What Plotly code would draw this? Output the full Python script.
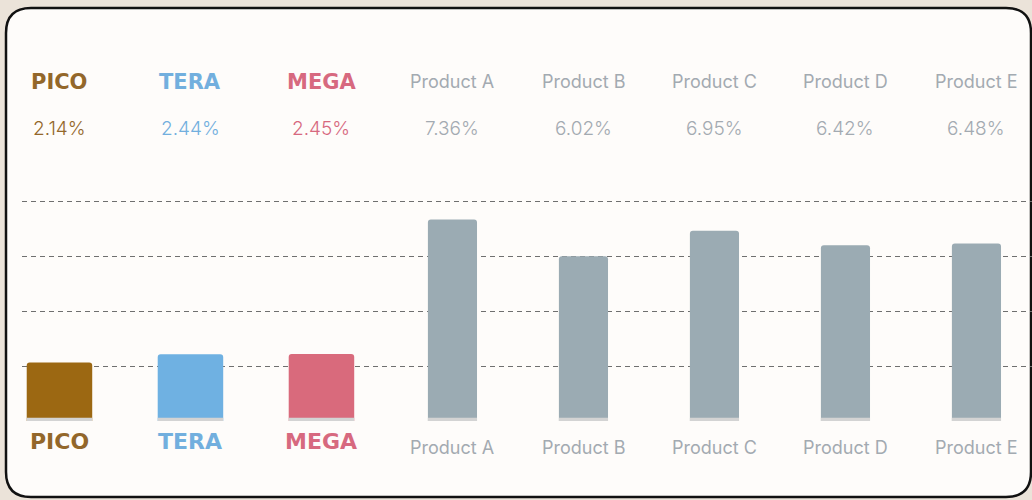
import plotly.graph_objects as go

# ---- data ----
categories = ["PICO", "TERA", "MEGA", "Product A", "Product B", "Product C", "Product D", "Product E"]
values = [2.14, 2.44, 2.45, 7.36, 6.02, 6.95, 6.42, 6.48]
y_ticks = [0, 2, 4, 6, 8]

# ---- styles ----
bar_colors = ["#9c6812", "#6fb1e2", "#d96a7c", "#9babb3", "#9babb3", "#9babb3", "#9babb3", "#9babb3"]
text_colors = ["#93672a", "#72afde", "#d7697f", "#a3aab1", "#a3aab1", "#a3aab1", "#a3aab1", "#a3aab1"]
highlight = [True, True, True, False, False, False, False, False]
bar_widths = [0.5 if h else 0.375 for h in highlight]

W, H = 1032, 500
ML, MR, MT, MB = 22, 0, 180, 79
PW, PH = W - ML - MR, H - MT - MB


def px(x):
    return (x - ML) / PW


def py(y):
    return (H - MB - y) / PH


fig = go.Figure()
fig.add_trace(go.Bar(
    x=list(range(len(categories))), y=values, width=bar_widths,
    marker=dict(color=bar_colors, line=dict(width=0), cornerradius=3),
    hoverinfo="skip", showlegend=False,
))
fig.add_trace(go.Bar(
    x=list(range(len(categories))), y=[0.12] * len(categories), width=bar_widths,
    marker=dict(color="#d3d3d3", line=dict(width=0)),
    hoverinfo="skip", showlegend=False,
))

annotations = []
for i, (c, v) in enumerate(zip(categories, values)):
    if highlight[i]:
        fam, size, txt = "DejaVu Sans", 21, "<b>%s</b>" % c
        fam_b, size_b = "DejaVu Sans", 22
        ybot = py(441)
    else:
        fam, size, txt = "Inter", 18, c
        fam_b, size_b = "Inter", 18
        ybot = py(447)
    annotations.append(dict(x=i, y=py(82), xref="x", yref="paper", text=txt, showarrow=False,
                            font=dict(family=fam, size=size, color=text_colors[i]),
                            xanchor="center", yanchor="middle"))
    annotations.append(dict(x=i, y=py(128), xref="x", yref="paper", text="%.2f%%" % v, showarrow=False,
                            font=dict(family="Inter", size=19, color=text_colors[i], weight=300),
                            xanchor="center", yanchor="middle"))
    annotations.append(dict(x=i, y=ybot, xref="x", yref="paper", text=txt, showarrow=False,
                            font=dict(family=fam_b, size=size_b, color=text_colors[i]),
                            xanchor="center", yanchor="middle"))

# card with rounded corners (paper coords)
x0, x1, y0, y1, r = 6, 1031, 8, 497, 25
path = (
    f"M {px(x0 + r)},{py(y0)} L {px(x1 - r)},{py(y0)} Q {px(x1)},{py(y0)} {px(x1)},{py(y0 + r)} "
    f"L {px(x1)},{py(y1 - r)} Q {px(x1)},{py(y1)} {px(x1 - r)},{py(y1)} "
    f"L {px(x0 + r)},{py(y1)} Q {px(x0)},{py(y1)} {px(x0)},{py(y1 - r)} "
    f"L {px(x0)},{py(y0 + r)} Q {px(x0)},{py(y0)} {px(x0 + r)},{py(y0)} Z"
)

fig.update_layout(
    width=W, height=H,
    margin=dict(l=ML, r=MR, t=MT, b=MB, pad=0),
    paper_bgcolor="#ebe3d9", plot_bgcolor="rgba(0,0,0,0)",
    barmode="overlay",
    shapes=[dict(type="path", path=path, xref="paper", yref="paper", layer="below",
                 fillcolor="#fefcfa", line=dict(color="#111111", width=2.5))],
    annotations=annotations,
    xaxis=dict(range=[-0.286, 7.424], showticklabels=False, showgrid=False, zeroline=False,
               showline=False, ticks=""),
    yaxis=dict(range=[0, 8.80], tickvals=y_ticks, showticklabels=False, showgrid=True,
               gridcolor="#6f6f6f", griddash="5px,4px", gridwidth=1, zeroline=False,
               showline=False, ticks=""),
)
fig.write_html(
    "out.html",
    config={"displayModeBar": False},
    post_script="document.body.style.margin='0';document.body.style.overflow='hidden';"
                "document.body.style.background='#ebe3d9';",
)
